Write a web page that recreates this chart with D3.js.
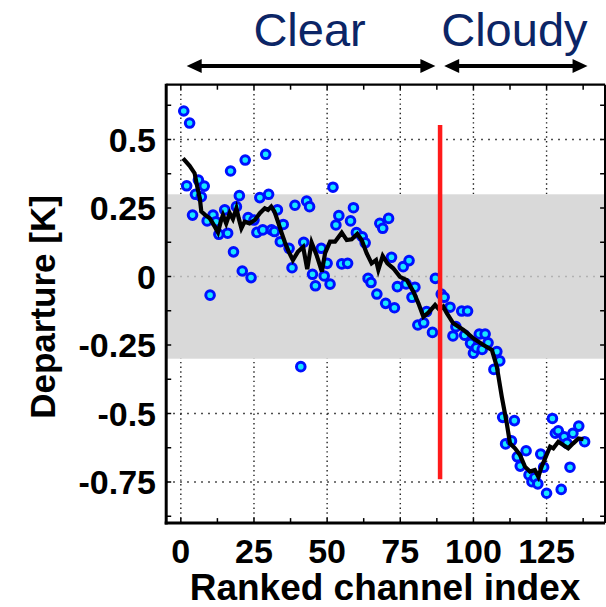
<!DOCTYPE html>
<html><head><meta charset="utf-8">
<script src="https://cdn.jsdelivr.net/npm/d3@7"></script>
<style>html,body{margin:0;padding:0;background:#fff;}svg{display:block;}</style>
</head><body>
<svg id="c" width="606" height="607"></svg>
<script>
// ---- data ----
const pointIndex = [1,2,3,4,5,6,7,8,9,10,11,12,13,15,16,17,18,19,20,21,22,23,24,25,26,27,28,29,30,31,32,33,34,35,37,38,39,41,42,43,44,45,46,48,49,50,51,52,53,54,55,57,58,59,60,62,63,64,65,67,68,69,70,71,72,73,74,76,77,78,79,80,81,83,84,86,87,89,90,92,93,94,96,97,98,99,100,101,102,103,104,105,107,108,109,110,111,113,114,115,116,118,119,120,121,122,123,124,125,127,128,129,130,131,132,133,134,136,138];
const pointDeparture = [0.604,0.331,0.56,0.224,0.30,0.352,0.291,0.330,0.203,-0.068,0.224,0.20,0.154,0.243,0.158,0.385,0.09,0.255,0.295,0.02,0.425,0.215,-0.004,0.206,0.161,0.288,0.17,0.446,0.30,0.17,0.164,0.243,0.127,0.19,0.103,0.032,0.26,-0.329,0.125,0.275,0.255,0.008,-0.034,0.103,0.002,0.048,-0.028,0.326,0.188,0.222,0.046,0.048,0.203,0.251,0.16,0.145,0.123,-0.007,-0.022,-0.064,0.194,0.176,-0.098,0.212,0.07,-0.114,-0.037,0.036,-0.027,0.058,-0.076,-0.039,-0.177,-0.169,-0.128,-0.204,-0.007,-0.064,-0.076,-0.112,-0.217,-0.183,-0.126,-0.214,-0.126,-0.244,-0.28,-0.26,-0.21,-0.266,-0.21,-0.242,-0.339,-0.274,-0.308,-0.514,-0.611,-0.60,-0.526,-0.658,-0.692,-0.636,-0.724,-0.749,-0.734,-0.757,-0.648,-0.696,-0.791,-0.518,-0.572,-0.563,-0.777,-0.585,-0.609,-0.696,-0.572,-0.546,-0.603];

const meanIndex = [0.75,3,4.7,5.6,6.5,7,8.4,9.9,11.6,12.7,13.8,14.4,15.5,16.7,17.8,19,19.8,20.7,21.8,23.5,25.3,27,28.7,29.8,30.9,32,33.2,34.3,35.5,36.9,38.3,40,41.8,43.2,44.7,46.4,48.2,49.3,51,52.7,55,56.7,58.4,60.3,61.8,63.5,65.2,66.7,67.5,69,70.6,72.6,74.9,77.2,79.5,81.2,82.9,84.6,86.9,88.4,89.7,90.9,93.1,96.6,100,103.4,106.3,108,109.7,111.4,112.5,114.2,115.9,117.6,119.3,121,122.2,123.3,125,126.2,127.3,129,130.7,132.4,134.1,135.9,137.6];
const meanDeparture = [0.431,0.404,0.377,0.328,0.285,0.237,0.224,0.212,0.182,0.161,0.206,0.224,0.194,0.231,0.21,0.249,0.212,0.176,0.2,0.194,0.206,0.231,0.249,0.243,0.255,0.237,0.2,0.164,0.127,0.09,0.06,0.09,0.108,0.027,0.124,0.078,0.018,0.085,0.127,0.127,0.16,0.133,0.136,0.155,0.133,0.085,0.048,0.06,0.024,0.075,0.048,0.03,-0.001,-0.013,-0.055,-0.098,-0.147,-0.132,-0.104,-0.122,-0.11,-0.134,-0.171,-0.195,-0.226,-0.25,-0.268,-0.329,-0.439,-0.536,-0.609,-0.627,-0.651,-0.694,-0.712,-0.706,-0.731,-0.694,-0.651,-0.621,-0.627,-0.603,-0.615,-0.627,-0.609,-0.591,-0.594];

const xTicks = [0,25,50,75,100,125];
const yTicks = [0.5,0.25,0,-0.25,-0.5,-0.75];
const yTickLabels = ["0.5","0.25","0","-0.25","-0.5","-0.75"];
const band = [-0.3, 0.3];
const splitIndex = 88.6;
const splitRange = [0.553, -0.74];
const regionNames = ["Clear","Cloudy"];
const regionSpans = [[2,87],[90,139]];
const regionCenters = [44,114];

// ---- layout ----
const svg = d3.select("#c");
const x = d3.scaleLinear().domain([-5,145]).range([166.2,605.1]);
const y = d3.scaleLinear().domain([-0.9,0.7]).range([523.1,84.7]);
const [x0,x1] = x.range(), [y0,y1] = [y(0.7), y(-0.9)];

const g = svg.append("g");
g.selectAll(".vg").data(xTicks).join("line")
  .attr("x1",d=>x(d)).attr("x2",d=>x(d)).attr("y1",y1).attr("y2",y0)
  .attr("stroke","#222").attr("stroke-width",1.4).attr("stroke-dasharray","1.4,3.3");
g.selectAll(".hg").data(yTicks).join("line")
  .attr("x1",x0).attr("x2",x1).attr("y1",d=>y(d)).attr("y2",d=>y(d))
  .attr("stroke","#222").attr("stroke-width",1.4).attr("stroke-dasharray","1.6,5.4");

g.append("rect").attr("x",x0).attr("width",x1-x0)
  .attr("y",y(band[1])).attr("height",y(band[0])-y(band[1])).attr("fill","#d9d9d9");
g.append("line").attr("x1",x0).attr("x2",x1).attr("y1",y(0)).attr("y2",y(0))
  .attr("stroke","#a8a8a8").attr("stroke-width",1.4).attr("stroke-dasharray","1.6,5.4");

const xMinor = d3.range(0,145,12.5);
const yMinor = d3.range(-0.875,0.7,0.125);
const tl = 5;
g.selectAll(".tb").data(xMinor).join("line").attr("x1",d=>x(d)).attr("x2",d=>x(d))
  .attr("y1",y1).attr("y2",y1-tl).attr("stroke","#000").attr("stroke-width",1.5);
g.selectAll(".tt").data(xMinor).join("line").attr("x1",d=>x(d)).attr("x2",d=>x(d))
  .attr("y1",y0).attr("y2",y0+tl).attr("stroke","#000").attr("stroke-width",1.5);
g.selectAll(".tlft").data(yMinor).join("line").attr("y1",d=>y(d)).attr("y2",d=>y(d))
  .attr("x1",x0).attr("x2",x0+tl).attr("stroke","#000").attr("stroke-width",1.5);
g.selectAll(".trt").data(yMinor).join("line").attr("y1",d=>y(d)).attr("y2",d=>y(d))
  .attr("x1",x1).attr("x2",x1-tl).attr("stroke","#000").attr("stroke-width",1.5);

const pts = pointIndex.map((d,i)=>({i:d,v:pointDeparture[i]}));
g.selectAll(".pt").data(pts).join("circle")
  .attr("cx",d=>x(d.i)).attr("cy",d=>y(d.v)).attr("r",4.3)
  .attr("fill","#18e6ff").attr("stroke","#0010ff").attr("stroke-width",3);

const mean = meanIndex.map((d,i)=>({i:d,v:meanDeparture[i]}));
g.append("path").datum(mean)
  .attr("d",d3.line().x(d=>x(d.i)).y(d=>y(d.v)))
  .attr("fill","none").attr("stroke","#000").attr("stroke-width",4.2).attr("stroke-linejoin","miter");

g.append("line").attr("x1",x(splitIndex)).attr("x2",x(splitIndex))
  .attr("y1",y(splitRange[0])).attr("y2",y(splitRange[1]))
  .attr("stroke","#ff1a1a").attr("stroke-width",4.5);

g.append("line").attr("x1",x0).attr("x2",x1).attr("y1",y0).attr("y2",y0).attr("stroke","#000").attr("stroke-width",2.2);
g.append("line").attr("x1",x1).attr("x2",x1).attr("y1",y0).attr("y2",y1).attr("stroke","#000").attr("stroke-width",2.2);
g.append("line").attr("x1",x0).attr("x2",x0).attr("y1",y0-1).attr("y2",y1+1.5).attr("stroke","#000").attr("stroke-width",3);
g.append("line").attr("x1",x0-1.5).attr("x2",x1).attr("y1",y1).attr("y2",y1).attr("stroke","#000").attr("stroke-width",3);

const font = "'Liberation Sans', Arial, Helvetica, sans-serif";
g.selectAll(".xl").data(xTicks).join("text")
  .attr("x",d=>x(d)).attr("y",563).attr("text-anchor","middle")
  .attr("font-family",font).attr("font-weight","bold").attr("font-size",34).text(d=>d);
g.selectAll(".yl").data(yTicks).join("text")
  .attr("x",156).attr("y",d=>y(d)+12).attr("text-anchor","end")
  .attr("font-family",font).attr("font-weight","bold").attr("font-size",34).text((d,i)=>yTickLabels[i]);

svg.append("text").attr("x",385).attr("y",600).attr("text-anchor","middle")
  .attr("font-family",font).attr("font-weight","bold").attr("font-size",37).text("Ranked channel index");
svg.append("text").attr("transform","translate(55,307) rotate(-90)").attr("text-anchor","middle")
  .attr("font-family",font).attr("font-weight","bold").attr("font-size",35).text("Departure [K]");

const ay = 66, ah = 15, aw = 7;
regionNames.forEach((name,k)=>{
  const [a,b] = regionSpans[k].map(x);
  svg.append("text").attr("x",x(regionCenters[k])).attr("y",46).attr("text-anchor","middle")
    .attr("font-family",font).attr("font-size",47).attr("fill","#0b2566").text(name);
  svg.append("line").attr("x1",a+ah-2).attr("x2",b-ah+2).attr("y1",ay).attr("y2",ay)
    .attr("stroke","#000").attr("stroke-width",4);
  svg.append("path").attr("d",`M${a},${ay}L${a+ah},${ay-aw}L${a+ah},${ay+aw}Z`).attr("fill","#000");
  svg.append("path").attr("d",`M${b},${ay}L${b-ah},${ay-aw}L${b-ah},${ay+aw}Z`).attr("fill","#000");
});
</script>
</body></html>
